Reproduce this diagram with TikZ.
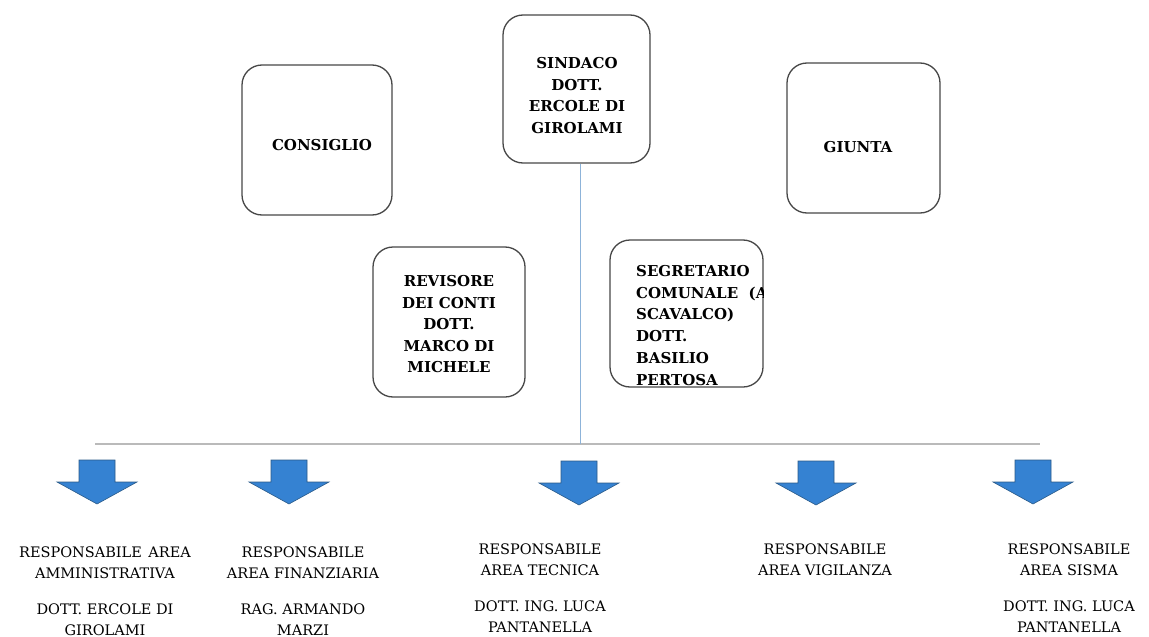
\documentclass[tikz,border=0pt]{standalone}
\usepackage{fontspec}
\setmainfont{DejaVu Serif}
\newcommand\widespaces{\spaceskip=0.45em plus 0.1em\relax}
\begin{document}
\begin{tikzpicture}[x=1pt,y=-1pt,
  box/.style={draw=black!72,line width=1.3pt,rounded corners=20pt,inner sep=0pt},
  boxtext/.style={font=\bfseries\fontsize{15}{21.5}\selectfont,align=center,inner sep=0pt},
  lbl/.style={font=\fontsize{14.5}{21}\selectfont,align=center,anchor=north,inner sep=0pt},
  conn/.style={draw=vline,line width=1pt},
  hconn/.style={draw=black!27,line width=1.5pt},
  pics/downarrow/.style={code={
    \filldraw[fill=arrowblue,draw=arrowedge,line width=0.6pt,line join=miter]
      (-18,0) -- (18,0) -- (18,22) -- (40,22) -- (0,44) -- (-40,22) -- (-18,22) -- cycle;}}
]
\definecolor{arrowblue}{HTML}{3582D2}
\definecolor{arrowedge}{HTML}{2A5A88}
\definecolor{vline}{HTML}{8DB3D9}
\useasboundingbox (0,0) rectangle (1149,637);
% boxes
\node[box,minimum width=150pt,minimum height=150pt] (consiglio) at (317,140) {};
\node[boxtext] (consigliotext) at (322,145) {CONSIGLIO};
\node[box,minimum width=147pt,minimum height=148pt] (sindaco) at (576.5,89) {};
\node[boxtext] (sindacotext) at (577,95.5) {SINDACO\\DOTT.\\ERCOLE DI\\GIROLAMI};
\node[box,minimum width=153pt,minimum height=150pt] (giunta) at (863.5,138) {};
\node[boxtext] (giuntatext) at (858,147) {GIUNTA};
\node[box,minimum width=152pt,minimum height=150pt] (revisore) at (449,322) {};
\node[boxtext] (revisoretext) at (449,324.5) {REVISORE\\DEI CONTI\\DOTT.\\MARCO DI\\MICHELE};
\node[box,minimum width=153pt,minimum height=147pt] (segretario) at (686.5,313.5) {};
\begin{scope}
  \clip (segretario.south west) rectangle (segretario.north east);
  \node[boxtext,font=\bfseries\fontsize{15}{21.8}\selectfont,align=left,anchor=north west] (segtext) at (636,265)
    {SEGRETARIO\\COMUNALE \ (A\\SCAVALCO)\\DOTT.\\BASILIO\\PERTOSA};
\end{scope}
% connectors
\coordinate (junction) at (580,444);
\coordinate (hl) at (95,444);
\coordinate (hr) at (1040,444);
\draw[hconn] (hl) -- (hr);
\draw[conn] (sindaco.south -| junction) -- (junction);
% arrows
\pic at (97,460) {downarrow};
\pic at (289,460) {downarrow};
\pic at (579,461) {downarrow};
\pic at (816,461) {downarrow};
\pic at (1033,460) {downarrow};
% labels
\node[lbl] (l1) at (105,546.7) {\widespaces RESPONSABILE AREA\\AMMINISTRATIVA\\[15pt]DOTT. ERCOLE DI\\GIROLAMI};
\node[lbl] (l2) at (303,546.7) {\widespaces RESPONSABILE\\AREA FINANZIARIA\\[15pt]RAG. ARMANDO\\MARZI};
\node[lbl] (l3) at (540,543.7) {\widespaces RESPONSABILE\\AREA TECNICA\\[15pt]DOTT. ING. LUCA\\PANTANELLA};
\node[lbl] (l4) at (825,543.7) {\widespaces RESPONSABILE\\AREA VIGILANZA};
\node[lbl] (l5) at (1069,543.7) {\widespaces RESPONSABILE\\AREA SISMA\\[15pt]DOTT. ING. LUCA\\PANTANELLA};
\end{tikzpicture}
\end{document}
